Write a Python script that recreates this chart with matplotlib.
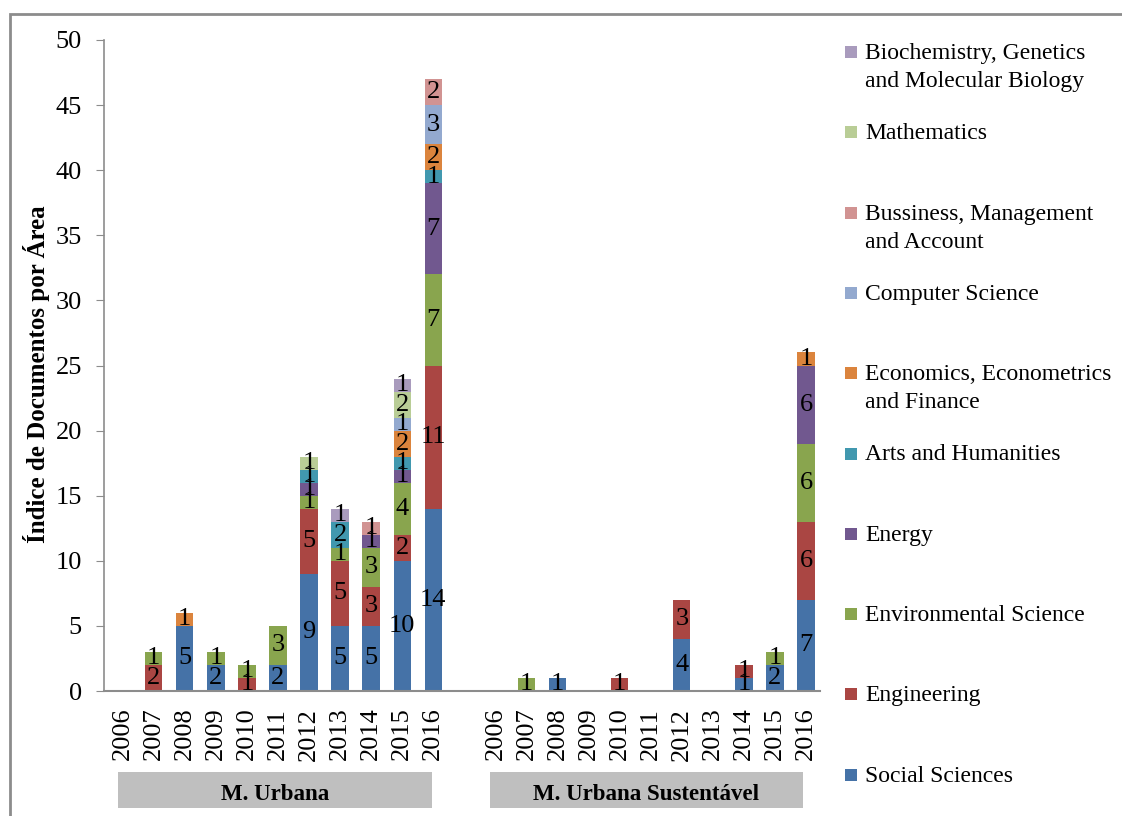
import matplotlib
matplotlib.use("Agg")
import matplotlib.pyplot as plt
import numpy as np
from matplotlib.patches import Rectangle

years = ["2006", "2007", "2008", "2009", "2010", "2011", "2012", "2013", "2014", "2015", "2016"]
groups = ["M. Urbana", "M. Urbana Sustentável"]

areas = ["Social Sciences", "Engineering", "Environmental Science", "Energy",
         "Arts and Humanities", "Economics, Econometrics\nand Finance", "Computer Science",
         "Bussiness, Management\nand Account", "Mathematics",
         "Biochemistry, Genetics\nand Molecular Biology"]
colors = ["#4572A7", "#AA4643", "#89A54E", "#71588F", "#4198AF",
          "#DB843D", "#93A9CF", "#D19392", "#B9CD96", "#A99BBD"]

# M. Urbana (2006..2016)
urb_social   = [0, 0, 5, 2, 0, 2, 9, 5, 5, 10, 14]
urb_eng      = [0, 2, 0, 0, 1, 0, 5, 5, 3, 2, 11]
urb_env      = [0, 1, 0, 1, 1, 3, 1, 1, 3, 4, 7]
urb_energy   = [0, 0, 0, 0, 0, 0, 1, 0, 1, 1, 7]
urb_arts     = [0, 0, 0, 0, 0, 0, 1, 2, 0, 1, 1]
urb_econ     = [0, 0, 1, 0, 0, 0, 0, 0, 0, 2, 2]
urb_cs       = [0, 0, 0, 0, 0, 0, 0, 0, 0, 1, 3]
urb_bus      = [0, 0, 0, 0, 0, 0, 0, 0, 1, 0, 2]
urb_math     = [0, 0, 0, 0, 0, 0, 1, 0, 0, 2, 0]
urb_bio      = [0, 0, 0, 0, 0, 0, 0, 1, 0, 1, 0]

# M. Urbana Sustentável (2006..2016)
sus_social   = [0, 0, 1, 0, 0, 0, 4, 0, 1, 2, 7]
sus_eng      = [0, 0, 0, 0, 1, 0, 3, 0, 1, 0, 6]
sus_env      = [0, 1, 0, 0, 0, 0, 0, 0, 0, 1, 6]
sus_energy   = [0, 0, 0, 0, 0, 0, 0, 0, 0, 0, 6]
sus_arts     = [0, 0, 0, 0, 0, 0, 0, 0, 0, 0, 0]
sus_econ     = [0, 0, 0, 0, 0, 0, 0, 0, 0, 0, 1]
sus_cs       = [0, 0, 0, 0, 0, 0, 0, 0, 0, 0, 0]
sus_bus      = [0, 0, 0, 0, 0, 0, 0, 0, 0, 0, 0]
sus_math     = [0, 0, 0, 0, 0, 0, 0, 0, 0, 0, 0]
sus_bio      = [0, 0, 0, 0, 0, 0, 0, 0, 0, 0, 0]

urb = [urb_social, urb_eng, urb_env, urb_energy, urb_arts, urb_econ, urb_cs, urb_bus, urb_math, urb_bio]
sus = [sus_social, sus_eng, sus_env, sus_energy, sus_arts, sus_econ, sus_cs, sus_bus, sus_math, sus_bio]

plt.rcParams['font.family'] = ['Liberation Serif', 'DejaVu Serif']

W, H = 1122, 816
fig = plt.figure(figsize=(W / 100, H / 100), dpi=100)

def fx(px):
    return px / W

def fy(py):
    return 1 - py / H

# outer frame
fig.patches.append(Rectangle((fx(10), fy(900)), 1.2, fy(14) - fy(900), transform=fig.transFigure,
                             fill=False, edgecolor="#8c8c8c", linewidth=2, zorder=0))

ax = fig.add_axes([fx(104), fy(691), fx(820) - fx(104), fy(40) - fy(691)])

n = len(years)
x_urb = np.arange(n)
x_sus = np.arange(n) + n + 1
xs = np.concatenate([x_urb, x_sus])
width = 0.56

bottom = np.zeros(2 * n)
for i in range(len(areas)):
    vals = np.array(urb[i] + sus[i], dtype=float)
    ax.bar(xs, vals, width, bottom=bottom, color=colors[i], edgecolor="none", zorder=2)
    for xv, v, b in zip(xs, vals, bottom):
        if v > 0:
            ax.text(xv, b + v / 2, f"{int(v)}", ha="center", va="center", fontsize=19,
                    color="black", zorder=3)
    bottom += vals

ax.set_ylim(0, 50)
ax.set_xlim(-0.6, 2 * n + 0.45)
ax.set_yticks(range(0, 51, 5))
ax.tick_params(axis="y", labelsize=19, direction="out", length=6, color="#8c8c8c", pad=10)
ax.set_xticks(xs)
ax.set_xticklabels(years + years, rotation=90, fontsize=19)
ax.tick_params(axis="x", length=0, pad=12)
for s in ["top", "right"]:
    ax.spines[s].set_visible(False)
ax.spines["left"].set_color("#8c8c8c")
ax.spines["bottom"].set_color("#8c8c8c")
ax.spines["left"].set_linewidth(1.2)
ax.spines["bottom"].set_linewidth(1.5)
ax.set_ylabel("Índice de Documentos por Área", fontsize=18, fontweight="bold")
ax.yaxis.set_label_coords(fx(50), fy(374), transform=fig.transFigure)

# group label boxes
boxes = [(118, 432), (490, 803)]
for (x0, x1), g in zip(boxes, groups):
    fig.patches.append(Rectangle((fx(x0), fy(808)), fx(x1) - fx(x0), fy(772) - fy(808),
                                 transform=fig.transFigure, facecolor="#bfbfbf", edgecolor="none"))
    fig.text(fx((x0 + x1) / 2), fy(794), g, ha="center", va="center", fontsize=16.5,
             fontweight="bold")

# legend (top to bottom)
order = list(range(len(areas)))[::-1]
for k, i in enumerate(order):
    ytop = 46 + 80.3 * k
    fig.patches.append(Rectangle((fx(845), fy(ytop + 12)), fx(12), fy(ytop) - fy(ytop + 12),
                                 transform=fig.transFigure, facecolor=colors[i], edgecolor="none"))
    fig.text(fx(865), fy(ytop - 3), areas[i], ha="left", va="top", fontsize=17,
             linespacing=1.45)

fig.savefig("out.png", dpi=100)
